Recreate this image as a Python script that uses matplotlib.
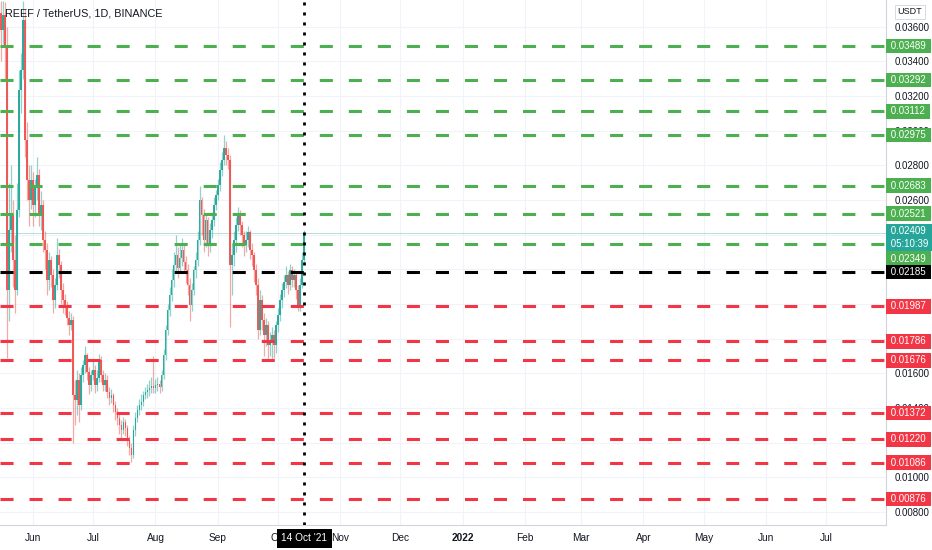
import matplotlib
matplotlib.use('Agg')
import matplotlib.pyplot as plt
import matplotlib.dates as mdates
from matplotlib.transforms import blended_transform_factory
import datetime as dt
import warnings
warnings.filterwarnings('ignore')

plt.rcParams['lines.scale_dashes'] = False
plt.rcParams['font.family'] = ['Liberation Sans Narrow', 'Liberation Sans', 'DejaVu Sans']

# ---------------- data ----------------
title = 'REEF / TetherUS, 1D, BINANCE'
start_date = dt.date(2021, 5, 16)
first_open = 0.03680
closes = [
    0.03581, 0.03668, 0.03495, 0.02081, 0.02427, 0.02514, 0.02254, 0.02081, 0.02543, 0.03235,
    0.03351, 0.03639, 0.02947, 0.02716, 0.02600, 0.02716, 0.02572, 0.02687, 0.02745, 0.02514,
    0.02572, 0.02370, 0.02312, 0.02139, 0.02254, 0.02168, 0.02023, 0.02110, 0.02283, 0.02225,
    0.02081, 0.02023, 0.01995, 0.01920, 0.01879, 0.01908, 0.01475, 0.01446, 0.01562, 0.01418,
    0.01591, 0.01648, 0.01706, 0.01608, 0.01533, 0.01591, 0.01620, 0.01533, 0.01573, 0.01677,
    0.01591, 0.01533, 0.01562, 0.01493, 0.01458, 0.01475, 0.01418, 0.01377, 0.01343, 0.01302,
    0.01273, 0.01320, 0.01285, 0.01216, 0.01170, 0.01129, 0.01273, 0.01343, 0.01389, 0.01418,
    0.01435, 0.01475, 0.01493, 0.01504, 0.01516, 0.01527, 0.01516, 0.01533, 0.01539, 0.01521,
    0.01591, 0.01706, 0.01850, 0.01966, 0.02052, 0.02139, 0.02225, 0.02283, 0.02208, 0.02266,
    0.02312, 0.02243, 0.02197, 0.02110, 0.01995, 0.02081, 0.02197, 0.02254, 0.02370, 0.02600,
    0.02514, 0.02370, 0.02485, 0.02341, 0.02427, 0.02485, 0.02572, 0.02629, 0.02687, 0.02774,
    0.02831, 0.02901, 0.02860, 0.02831, 0.02225, 0.02283, 0.02370, 0.02456, 0.02514, 0.02456,
    0.02399, 0.02341, 0.02370, 0.02416, 0.02312, 0.02283, 0.02197, 0.02110, 0.01850, 0.02023,
    0.01908, 0.01822, 0.01879, 0.01764, 0.01793, 0.01822, 0.01764, 0.01879, 0.01937, 0.02023,
    0.02081, 0.02127, 0.02168, 0.02110, 0.02197, 0.02139, 0.02168, 0.02081, 0.01995, 0.02110,
    0.02254, 0.02409,
]
highs = [
    0.03750, 0.03750, 0.03740, 0.03600, 0.02700, 0.02800, 0.02600, 0.02400, 0.02700, 0.03350,
    0.03450, 0.03750, 0.03700, 0.03050, 0.02800, 0.02800, 0.02760, 0.02720, 0.02850, 0.02780,
    0.02650, 0.02600, 0.02420, 0.02350, 0.02300, 0.02280, 0.02200, 0.02150, 0.02380, 0.02320,
    0.02250, 0.02120, 0.02060, 0.02020, 0.01960, 0.01950, 0.01930, 0.01560, 0.01620, 0.01600,
    0.01640, 0.01680, 0.01760, 0.01720, 0.01640, 0.01620, 0.01680, 0.01650, 0.01620, 0.01710,
    0.01700, 0.01620, 0.01600, 0.01590, 0.01520, 0.01510, 0.01490, 0.01440, 0.01400, 0.01370,
    0.01330, 0.01350, 0.01340, 0.01300, 0.01240, 0.01200, 0.01300, 0.01380, 0.01420, 0.01450,
    0.01480, 0.01500, 0.01520, 0.01540, 0.01560, 0.01580, 0.01700, 0.01570, 0.01580, 0.01560,
    0.01620, 0.01740, 0.01880, 0.02000, 0.02100, 0.02200, 0.02300, 0.02400, 0.02330, 0.02350,
    0.02380, 0.02340, 0.02280, 0.02230, 0.02150, 0.02120, 0.02220, 0.02300, 0.02420, 0.02680,
    0.02620, 0.02550, 0.02520, 0.02500, 0.02470, 0.02530, 0.02620, 0.02660, 0.02720, 0.02820,
    0.02880, 0.02975, 0.02940, 0.02900, 0.02860, 0.02350, 0.02420, 0.02500, 0.02560, 0.02540,
    0.02480, 0.02420, 0.02420, 0.02450, 0.02430, 0.02350, 0.02300, 0.02230, 0.02150, 0.02080,
    0.02050, 0.01950, 0.01920, 0.01900, 0.01840, 0.01870, 0.01850, 0.01900, 0.01980, 0.02060,
    0.02120, 0.02170, 0.02220, 0.02190, 0.02230, 0.02220, 0.02200, 0.02190, 0.02110, 0.02150,
    0.02300, 0.02430,
]
lows = [
    0.03400, 0.03500, 0.03300, 0.01690, 0.01900, 0.02300, 0.02100, 0.01950, 0.02050, 0.02500,
    0.03100, 0.03300, 0.02850, 0.02600, 0.02450, 0.02550, 0.02450, 0.02500, 0.02600, 0.02450,
    0.02430, 0.02300, 0.02200, 0.02050, 0.02080, 0.02100, 0.01950, 0.01980, 0.02080, 0.02150,
    0.02000, 0.01950, 0.01940, 0.01880, 0.01820, 0.01850, 0.01200, 0.01300, 0.01360, 0.01320,
    0.01390, 0.01550, 0.01600, 0.01560, 0.01480, 0.01500, 0.01560, 0.01490, 0.01500, 0.01550,
    0.01550, 0.01500, 0.01500, 0.01460, 0.01420, 0.01430, 0.01380, 0.01330, 0.01300, 0.01250,
    0.01230, 0.01250, 0.01240, 0.01180, 0.01130, 0.01090, 0.01110, 0.01240, 0.01320, 0.01360,
    0.01390, 0.01410, 0.01450, 0.01460, 0.01470, 0.01490, 0.01490, 0.01490, 0.01500, 0.01490,
    0.01500, 0.01570, 0.01680, 0.01820, 0.01930, 0.02020, 0.02100, 0.02180, 0.02150, 0.02180,
    0.02220, 0.02180, 0.02120, 0.02050, 0.01900, 0.01960, 0.02050, 0.02150, 0.02220, 0.02340,
    0.02400, 0.02300, 0.02330, 0.02280, 0.02300, 0.02380, 0.02450, 0.02540, 0.02600, 0.02650,
    0.02740, 0.02800, 0.02800, 0.02780, 0.01870, 0.02050, 0.02220, 0.02300, 0.02420, 0.02400,
    0.02330, 0.02280, 0.02300, 0.02330, 0.02260, 0.02220, 0.02130, 0.02050, 0.01800, 0.01820,
    0.01850, 0.01700, 0.01760, 0.01680, 0.01700, 0.01680, 0.01690, 0.01720, 0.01840, 0.01900,
    0.01980, 0.02040, 0.02090, 0.02060, 0.02080, 0.02100, 0.02100, 0.02030, 0.01960, 0.01960,
    0.02090, 0.02230,
]

green_levels = [0.03489, 0.03292, 0.03112, 0.02975, 0.02683, 0.02521, 0.02349]
pivot_level = 0.02185
red_levels = [0.01987, 0.01786, 0.01676, 0.01372, 0.01220, 0.01086, 0.00876]
last_price = 0.02409
countdown = '05:10:39'
price_ticks = [0.008, 0.010, 0.012, 0.014, 0.016, 0.018, 0.020, 0.022,
               0.024, 0.026, 0.028, 0.030, 0.032, 0.034, 0.036]
# tick labels that the reference shows (others are hidden under price tags)
shown_ticks = [0.008, 0.010, 0.014, 0.016, 0.026, 0.028, 0.030, 0.032, 0.034, 0.036]
month_dates = [dt.date(2021, 6, 1), dt.date(2021, 7, 1), dt.date(2021, 8, 1),
               dt.date(2021, 9, 1), dt.date(2021, 10, 1), dt.date(2021, 11, 1),
               dt.date(2021, 12, 1), dt.date(2022, 1, 1), dt.date(2022, 2, 1),
               dt.date(2022, 3, 1), dt.date(2022, 4, 1), dt.date(2022, 5, 1),
               dt.date(2022, 6, 1), dt.date(2022, 7, 1)]
month_labels = ['Jun', 'Jul', 'Aug', 'Sep', 'Oct', 'Nov', 'Dec', '2022',
                'Feb', 'Mar', 'Apr', 'May', 'Jun', 'Jul']
marker_date = dt.date(2021, 10, 14)
marker_label = "14 Oct '21"
currency = 'USDT'

# ---------------- colours ----------------
UP = '#26a69a'
DOWN = '#ef5350'
GREEN = '#4caf50'
RED = '#f23645'
TEXT = '#131722'
GRID = '#f0f3fa'
BORDER = '#d1d4dc'

W, H = 932, 550
fig = plt.figure(figsize=(W / 100, H / 100), dpi=100)
fig.patch.set_facecolor('white')
ax = fig.add_axes([0, 25 / H, 886 / W, 525 / H])

# x scale: ~2 px per day, Jun 1 2021 at x = 33 px
ref = mdates.date2num(dt.date(2021, 6, 1))
ppd = 2.008
ax.set_xlim(ref - 33 / ppd, ref + (886 - 33) / ppd)
ax.set_ylim(0.007259, 0.03754)

# candles
opens = [first_open] + closes[:-1]
xs = [mdates.date2num(start_date + dt.timedelta(days=i)) for i in range(len(closes))]
for x, o, c, h, l in zip(xs, opens, closes, highs, lows):
    col = UP if c >= o else DOWN
    ax.vlines(x, l, h, color=col, lw=0.9, alpha=0.5, zorder=3)
    ax.bar(x, max(abs(c - o), 0.00005), bottom=min(o, c), width=0.8,
           color=col, edgecolor='none', alpha=0.95, zorder=4)

# level lines
dash = (0, (9.4, 11.5))
for lv in green_levels:
    ax.axhline(lv, color=GREEN, lw=2.2, ls=dash, zorder=5)
for lv in red_levels:
    ax.axhline(lv, color=RED, lw=2.2, ls=dash, zorder=5)
ax.axhline(pivot_level, color='black', lw=2.2, ls=dash, zorder=5)
ax.axhline(last_price, color=UP, lw=0.7, alpha=0.35, zorder=2)

# vertical dotted marker
mx = mdates.date2num(marker_date)
ax.axvline(mx, color='black', lw=2.0, ls=(0, (2.2, 5.0)), zorder=6)

# axes, ticks, grid
ax.set_yticks(price_ticks)
ax.set_yticklabels([f'{t:.5f}' if t in shown_ticks else '' for t in price_ticks])
ax.yaxis.tick_right()
ax.tick_params(axis='y', length=0, pad=6, labelsize=7, colors=TEXT)
ax.set_xticks([mdates.date2num(d) for d in month_dates])
ax.set_xticklabels(month_labels)
ax.tick_params(axis='x', length=0, pad=6, labelsize=7.3, colors=TEXT)
for lab in ax.get_xticklabels():
    if lab.get_text() == '2022':
        lab.set_fontweight('bold')
ax.grid(True, color=GRID, lw=0.8, zorder=0)
ax.set_axisbelow(True)
for s in ['top', 'left']:
    ax.spines[s].set_visible(False)
for s in ['right', 'bottom']:
    ax.spines[s].set_color(BORDER)
    ax.spines[s].set_linewidth(0.8)

# price tags on the right axis
trans = blended_transform_factory(ax.transAxes, ax.transData)
def price_box(level, color, dy_px=0):
    ax.annotate(f' {level:.5f} ', xy=(1, level), xycoords=trans,
                xytext=(1.5, -dy_px * 0.72), textcoords='offset points',
                ha='left', va='center', fontsize=7, color='white',
                bbox=dict(boxstyle='square,pad=0.24', fc=color, ec='none'),
                annotation_clip=False, zorder=10)

for lv in green_levels:
    price_box(lv, GREEN, 15 if lv == 0.02349 else 0)
for lv in red_levels:
    price_box(lv, RED)
price_box(pivot_level, 'black')
ax.annotate(f' {last_price:.5f} \n {countdown} ', xy=(1, last_price), xycoords=trans,
            xytext=(1.5, 5), textcoords='offset points', ha='left', va='top',
            fontsize=7, color='white', linespacing=1.3,
            bbox=dict(boxstyle='square,pad=0.24', fc=UP, ec='none'),
            annotation_clip=False, zorder=11)

# currency tag
fig.text(910 / W, 1 - 12 / H, currency, fontsize=6.5, color=TEXT, ha='center', va='center',
         bbox=dict(boxstyle='square,pad=0.3', fc='white', ec=BORDER, lw=0.6))

# marker date box on the time axis
ax.annotate(marker_label, xy=(mx, 0), xycoords=blended_transform_factory(ax.transData, ax.transAxes),
            xytext=(0, -9.5), textcoords='offset points', ha='center', va='center',
            fontsize=7.3, color='white',
            bbox=dict(boxstyle='square,pad=0.45', fc='black', ec='none'),
            annotation_clip=False, zorder=12)

# title
fig.text(5 / W, 1 - 14 / H, title, fontsize=7.8, color=TEXT, ha='left', va='center')

fig.savefig('out.png', dpi=100, facecolor='white')
